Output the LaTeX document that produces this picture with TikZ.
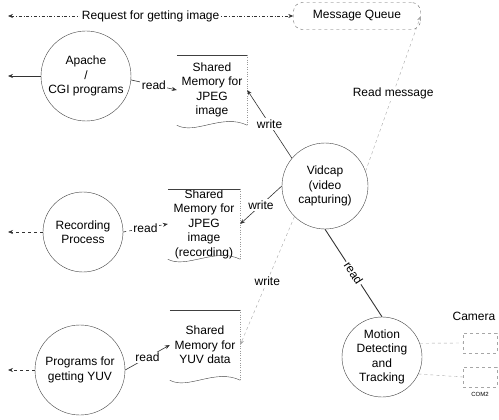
\documentclass[tikz,border=0pt]{standalone}
\usepackage{fontspec}
\setmainfont{Liberation Sans}
\usepackage{tikz}
\usetikzlibrary{positioning}
\usetikzlibrary{shapes, arrows.meta}

\begin{document}
\begin{tikzpicture}[
    x=1pt, y=-1pt,
    font=\fontsize{12}{14.5}\selectfont,
    >={Stealth[length=5pt,width=4pt]},
       proc/.style = {draw=black!75, circle, align=center, inner sep=0pt, minimum size=#1},% process bubbles
     proc/.default = 88pt,
      store/.style = {align=center, inner sep=0pt, minimum width=70pt, minimum height=70pt},% shared memory
       conn/.style = {draw=black!80, line width=0.6pt},
      faint/.style = {draw=black!35, dashed},
        lbl/.style = {fill=white, inner sep=1.5pt}
    ]
    \useasboundingbox (0,0) rectangle (499,420);
    % processes and stores
    \node (mq) [draw=black!60, dashed, rounded corners=9pt, minimum width=127pt, minimum height=27pt] at (357,16) {Message Queue};
    \node (apache) [proc=90pt] at (86,76) {Apache\\/\\CGI programs};
    \node (memA) [store] at (212,90) {Shared\\Memory for\\JPEG\\image};
    \node (rec) [proc=80pt] at (83,232) {Recording\\Process};
    \node (memB) [store, minimum width=72pt] at (204,224) {Shared\\Memory for\\JPEG\\image\\(recording)};
    \node (prog) [proc=90pt] at (80,370) {Programs for\\getting YUV};
    \node (memC) [store] at (205,345) {Shared\\Memory for\\YUV data};
    \node (vidcap) [proc=86pt] at (325,186) {Vidcap\\(video\\capturing)};
    \node (motion) [proc=80pt] at (382,357) {Motion\\Detecting\\and\\Tracking};
    \node (camA) [faint, minimum width=34pt, minimum height=20pt] at (480,343) {};
    \node (camB) [faint, minimum width=34pt, minimum height=20pt] at (480,377) {};
    \node (cam) [above=9pt of camA, xshift=-6pt] {Camera};
    \node (com) [below=4pt of camB, font=\fontsize{6}{7}\selectfont, inner sep=1pt] {COM2};
    \coordinate (reqL) at (8,16);
    \coordinate (outA) at (8,76);
    \coordinate (outB) at (8,232);
    \coordinate (outC) at (8,370);
    % memory outlines
    \foreach \m in {memA,memB,memC} {
        \draw[black!75] (\m.north west) -- (\m.north east);
        \draw[black!40, dotted] (\m.north east) -- (\m.south east);
        \draw[black!75] (\m.south west) .. controls +(18,10) and +(-25,-12) .. (\m.south east);
    }
    % connectors
    \draw[conn, <->, dash dot] (reqL) -- node[lbl] {Request for getting image} (mq.west);
    \draw[conn, ->] (apache.west) -- (outA);
    \draw[conn, ->, dashed] (rec.west) -- (outB);
    \draw[conn, ->, dashed] (prog.west) -- (outC);
    \draw[conn, ->] (apache.-5) -- node[lbl] {read} (memA.west);
    \draw[conn, ->, dashed] (rec.east) -- node[lbl] {read} (memB.west);
    \draw[conn, ->] (prog.east) -- node[lbl] {read} (memC.west);
    \draw[conn, ->] (vidcap.140) -- node[lbl] {write} (memA.east);
    \draw[conn, ->] (vidcap.west) -- node[lbl] {write} (memB.east);
    \draw[faint, ->] (vidcap.225) -- node[lbl] {write} (memC.east);
    \draw[faint, ->] (vidcap.20) -- node[lbl] {Read message} (mq.east);
    \draw[conn, line width=0.9pt] (vidcap.south) -- node[lbl, sloped] {read} (motion.north);
    \draw[faint] (motion.20) -- (camA.west);
    \draw[faint] (motion.-25) -- (camB.west);
\end{tikzpicture}
\end{document}
